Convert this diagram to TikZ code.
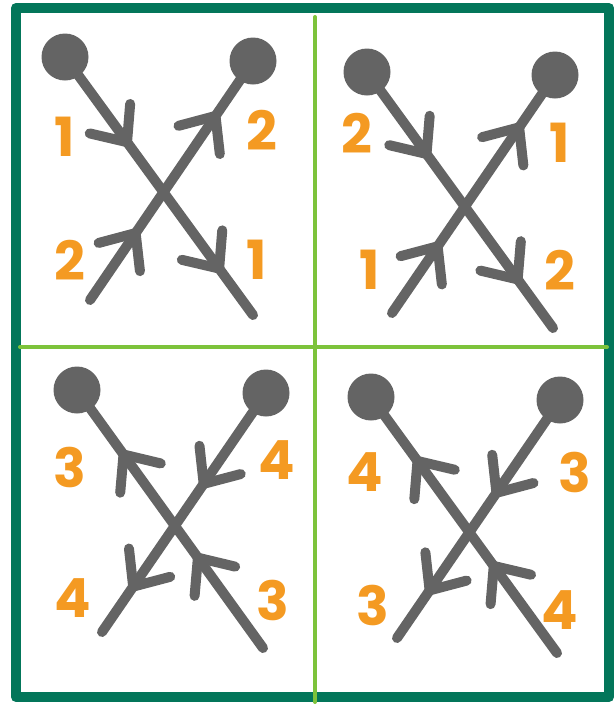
\documentclass[tikz,border=0pt]{standalone}
\usepackage{fontspec}
\usepackage{tikz}
\usetikzlibrary{decorations.markings}
\newfontfamily\digitfont{Poppins}
\definecolor{framegreen}{HTML}{03765A}
\definecolor{gridgreen}{HTML}{7DC33B}
\definecolor{stickgray}{HTML}{646464}
\definecolor{numorange}{HTML}{F49A22}

\begin{document}
\begin{tikzpicture}[x=1pt, y=-1pt,
    knob/.style={circle, fill=stickgray, minimum size=47pt, inner sep=0pt},
    chev/.style={draw=stickgray, line width=10pt, line cap=round, line join=round},
    stick/.style 2 args={line width=10pt, stickgray, line cap=round,
        postaction={decorate, decoration={markings,
            mark=at position #1 with {\draw[chev] (-29pt,25pt) -- (0pt,0pt) -- (-29pt,-25pt);},
            mark=at position #2 with {\draw[chev] (-29pt,25pt) -- (0pt,0pt) -- (-29pt,-25pt);}}}},
    num/.style={text=numorange, font=\digitfont\bfseries\fontsize{54}{54}\selectfont},
]
    \useasboundingbox (0,0) rectangle (614,705);

    % frame and grid
    \draw[line width=10pt, framegreen, line join=round] (16,8) rectangle (609,697);
    \draw[line width=4pt, gridgreen, line cap=round] (315,17) -- (315,702);
    \draw[line width=4pt, gridgreen, line cap=round] (20,347) -- (607,347);

    % top left
    \node[knob] (q1a) at (65,57) {};
    \node[knob] (q1b) at (253,61) {};
    \coordinate (q1aend) at (253,315);
    \coordinate (q1bend) at (90,300);
    \draw[stick={0.33}{0.82}] (q1a.center) -- (q1aend);
    \draw[stick={0.28}{0.77}] (q1bend) -- (q1b.center);
    \node[num] (q1n1) at (65,137) {1};
    \node[num] (q1n2) at (262,130) {2};
    \node[num] (q1n3) at (70,260) {2};
    \node[num] (q1n4) at (257,260) {1};

    % top right
    \node[knob] (q2a) at (367,72) {};
    \node[knob] (q2b) at (555,75) {};
    \coordinate (q2aend) at (553,328);
    \coordinate (q2bend) at (392,313);
    \draw[stick={0.32}{0.81}] (q2a.center) -- (q2aend);
    \draw[stick={0.28}{0.78}] (q2bend) -- (q2b.center);
    \node[num] (q2n1) at (357,133) {2};
    \node[num] (q2n2) at (560,143) {1};
    \node[num] (q2n3) at (370,270) {1};
    \node[num] (q2n4) at (560,270) {2};

    % bottom left
    \node[knob] (q3a) at (77,390) {};
    \node[knob] (q3b) at (266,393) {};
    \coordinate (q3aend) at (263,648);
    \coordinate (q3bend) at (102,632);
    \draw[stick={0.35}{0.75}] (q3aend) -- (q3a.center);
    \draw[stick={0.38}{0.81}] (q3b.center) -- (q3bend);
    \node[num] (q3n1) at (70,467) {3};
    \node[num] (q3n2) at (277,460) {4};
    \node[num] (q3n3) at (73,598) {4};
    \node[num] (q3n4) at (273,600) {3};

    % bottom right
    \node[knob] (q4a) at (371,397) {};
    \node[knob] (q4b) at (560,400) {};
    \coordinate (q4aend) at (557,653);
    \coordinate (q4bend) at (397,638);
    \draw[stick={0.34}{0.75}] (q4aend) -- (q4a.center);
    \draw[stick={0.39}{0.80}] (q4b.center) -- (q4bend);
    \node[num] (q4n1) at (365,472) {4};
    \node[num] (q4n2) at (575,472) {3};
    \node[num] (q4n3) at (373,605) {3};
    \node[num] (q4n4) at (560,610) {4};
\end{tikzpicture}
\end{document}
